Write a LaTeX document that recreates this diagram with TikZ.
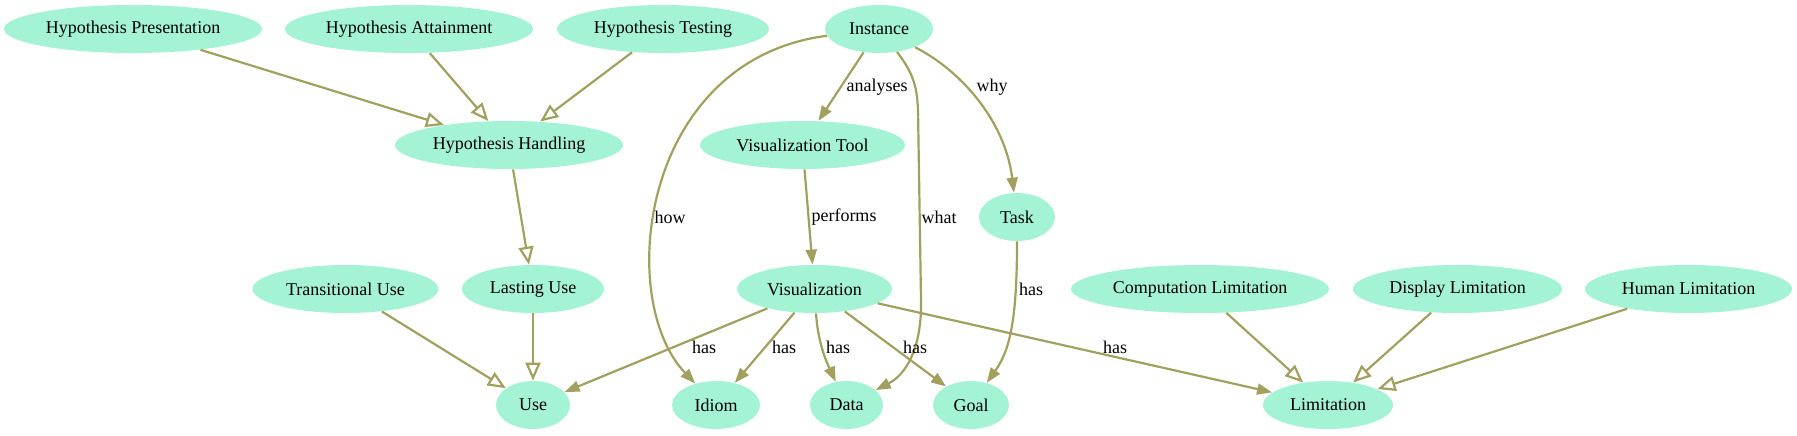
\documentclass[tikz,border=0pt]{standalone}
\usepackage{fontspec}
\setmainfont{Liberation Serif}
\usetikzlibrary{arrows.meta,shapes.geometric}
\definecolor{nodefill}{HTML}{A3F3D4}
\definecolor{edgecol}{HTML}{A2A05F}
\begin{document}
\begin{tikzpicture}[x=0.5pt,y=-0.5pt,
  every node/.style={font=\fontsize{9}{10.8}\selectfont},
  ent/.style={ellipse, fill=nodefill, inner sep=0pt, minimum height=24pt},
  rel/.style={draw=edgecol, line width=1.1pt, -{Triangle[length=7.5pt,width=5.5pt]}},
  isa/.style={draw=edgecol, line width=1.1pt, -{Triangle[open,length=9pt,width=7.5pt]}},
  lbl/.style={inner sep=0pt}]
\useasboundingbox (0,0) rectangle (1797,435);
% row 1
\node[ent, minimum width=129pt] (hpres) at (133,29) {Hypothesis Presentation};
\node[ent, minimum width=124pt] (hatt) at (409,29) {Hypothesis Attainment};
\node[ent, minimum width=106pt] (htest) at (663,29) {Hypothesis Testing};
\node[ent, minimum width=54pt] (inst) at (879,29) {Instance};
% row 2
\node[ent, minimum width=114pt] (hhand) at (509,145) {Hypothesis Handling};
\node[ent, minimum width=102.5pt] (vtool) at (802.5,145) {Visualization Tool};
% row 3
\node[ent, minimum width=38pt] (task) at (1017,217) {Task};
% row 4
\node[ent, minimum width=93pt] (trans) at (345.5,289) {Transitional Use};
\node[ent, minimum width=71pt] (last) at (533,289) {Lasting Use};
\node[ent, minimum width=77.5pt] (vis) at (814.5,289) {Visualization};
\node[ent, minimum width=129pt] (comp) at (1200,289) {Computation Limitation};
\node[ent, minimum width=104.5pt] (disp) at (1457.5,289) {Display Limitation};
\node[ent, minimum width=103.5pt] (human) at (1688.5,289) {Human Limitation};
% row 5
\node[ent, minimum width=37pt] (use) at (533,405) {Use};
\node[ent, minimum width=44pt] (idiom) at (716,405) {Idiom};
\node[ent, minimum width=36.5pt] (data) at (846.5,405) {Data};
\node[ent, minimum width=38pt] (goal) at (971,405) {Goal};
\node[ent, minimum width=65pt] (lim) at (1328,405) {Limitation};
% isa edges
\draw[isa] (hpres) -- (hhand);
\draw[isa] (hatt) -- (hhand);
\draw[isa] (htest) -- (hhand);
\draw[isa] (hhand) -- (last);
\draw[isa] (trans) -- (use);
\draw[isa] (last) -- (use);
\draw[isa] (comp) -- (lim);
\draw[isa] (disp) -- (lim);
\draw[isa] (human) -- (lim);
% relation edges
\draw[rel] (inst) -- (vtool);
\draw[rel] (inst) .. controls (640,60) and (615,300) .. (idiom);
\draw[rel] (inst) .. controls (915,75) and (917,90) .. (918,110) -- (921,300) .. controls (922,350) and (905,375) .. (data);
\draw[rel] (inst) .. controls (960,70) and (1005,120) .. (task);
\draw[rel] (vtool) -- (vis);
\draw[rel] (task) .. controls (1017,320) and (1010,350) .. (goal);
\draw[rel] (vis) -- (use);
\draw[rel] (vis) -- (idiom);
\draw[rel] (vis) .. controls (818,345) and (828,365) .. (data);
\draw[rel] (vis) -- (goal);
\draw[rel] (vis) -- (lim);
% labels
\node[lbl] (l1) at (877,87) {analyses};
\node[lbl] (l2) at (670,217) {how};
\node[lbl] (l3) at (939,217) {what};
\node[lbl] (l4) at (992,87) {why};
\node[lbl] (l5) at (844,217) {performs};
\node[lbl] (l6) at (1031,289) {has};
\node[lbl] (l7) at (704,347) {has};
\node[lbl] (l8) at (784,347) {has};
\node[lbl] (l9) at (838,347) {has};
\node[lbl] (l10) at (915,347) {has};
\node[lbl] (l11) at (1115,347) {has};
\end{tikzpicture}
\end{document}
